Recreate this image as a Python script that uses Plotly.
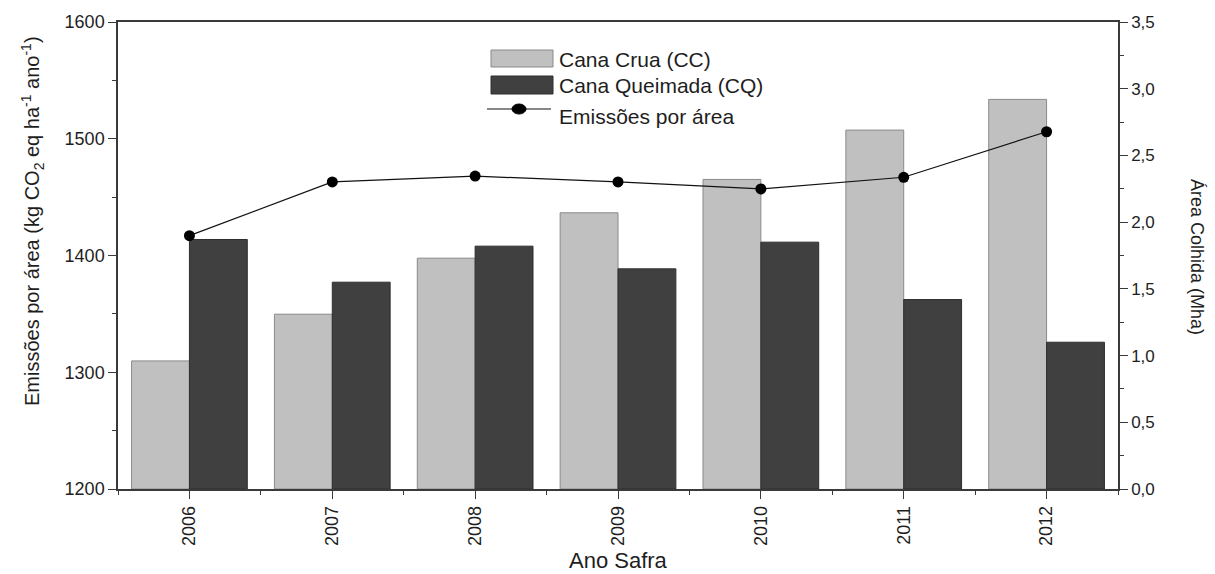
import plotly.graph_objects as go

# Safras (anos) e séries
anos = [2006, 2007, 2008, 2009, 2010, 2011, 2012]
area_cana_crua = [0.96, 1.31, 1.73, 2.07, 2.32, 2.69, 2.92]       # Mha
area_cana_queimada = [1.87, 1.55, 1.82, 1.65, 1.85, 1.42, 1.10]   # Mha
emissoes_por_area = [1417, 1463, 1468, 1463, 1457, 1467, 1506]    # kg CO2 eq ha-1 ano-1

W, H = 1215, 574
ML, MR, MT, MB = 118, 97, 22, 85
PW, PH = W - ML - MR, H - MT - MB

FONT = "Liberation Sans, Arial, sans-serif"
AXIS_COLOR = "#3a3a3a"
TEXT_COLOR = "#1e1e1e"


def px_x(x):
    return (x - ML) / PW


def px_y(y):
    return (H - MB - y) / PH


fig = go.Figure()

fig.add_trace(go.Bar(
    x=anos, y=area_cana_crua, name="Cana Crua (CC)",
    marker=dict(color="#c0c0c0", line=dict(color="#8a8a8a", width=1)),
    yaxis="y", showlegend=False,
))
fig.add_trace(go.Bar(
    x=anos, y=area_cana_queimada, name="Cana Queimada (CQ)",
    marker=dict(color="#404040", line=dict(color="#2e2e2e", width=1)),
    yaxis="y", showlegend=False,
))
fig.add_trace(go.Scatter(
    x=anos, y=emissoes_por_area, name="Emissões por área",
    mode="lines+markers",
    line=dict(color="#111111", width=1.2),
    marker=dict(color="#000000", size=11),
    yaxis="y2", showlegend=False,
))

tick_font = dict(family=FONT, size=17, color=TEXT_COLOR)

fig.update_layout(
    width=W, height=H,
    margin=dict(l=ML, r=MR, t=MT, b=MB),
    paper_bgcolor="white", plot_bgcolor="white",
    barmode="group", bargap=0.19, bargroupgap=0,
    separators=",.",
    font=dict(family=FONT, color=TEXT_COLOR),
    xaxis=dict(
        range=[2005.5, 2012.5], tickmode="array", tickvals=anos,
        ticktext=[str(a) for a in anos], tickangle=-90,
        ticks="outside", ticklen=8, tickwidth=1.2, tickcolor=AXIS_COLOR,
        minor=dict(tickmode="linear", tick0=2005.5, dtick=1, ticks="outside",
                   ticklen=4, tickwidth=1.2, tickcolor=AXIS_COLOR),
        showline=True, linecolor=AXIS_COLOR, linewidth=1.5, mirror=True,
        showgrid=False, zeroline=False, tickfont=dict(family=FONT, size=18, color=TEXT_COLOR),
    ),
    yaxis=dict(
        side="right", range=[0, 3.5], tickmode="linear", tick0=0, dtick=0.5,
        tickformat=".1f",
        ticks="outside", ticklen=8, tickwidth=1.2, tickcolor=AXIS_COLOR,
        minor=dict(tickmode="linear", tick0=0, dtick=0.25, ticks="outside",
                   ticklen=4, tickwidth=1.2, tickcolor=AXIS_COLOR),
        showline=True, linecolor=AXIS_COLOR, linewidth=1.5,
        showgrid=False, zeroline=False, tickfont=tick_font,
    ),
    yaxis2=dict(
        overlaying="y", side="left", anchor="x",
        range=[1200, 1600], tickmode="linear", tick0=1200, dtick=100,
        ticks="outside", ticklen=8, tickwidth=1.2, tickcolor=AXIS_COLOR,
        minor=dict(tickmode="linear", tick0=1200, dtick=50, ticks="outside",
                   ticklen=4, tickwidth=1.2, tickcolor=AXIS_COLOR),
        showline=True, linecolor=AXIS_COLOR, linewidth=1.5,
        showgrid=False, zeroline=False, tickfont=dict(family=FONT, size=18, color=TEXT_COLOR),
    ),
)

# Legenda desenhada no canto superior central
shapes = [
    dict(type="rect", xref="paper", yref="paper",
         x0=px_x(491), x1=px_x(553), y0=px_y(67), y1=px_y(50),
         fillcolor="#c0c0c0", line=dict(color="#8a8a8a", width=1)),
    dict(type="rect", xref="paper", yref="paper",
         x0=px_x(491), x1=px_x(553), y0=px_y(94), y1=px_y(76),
         fillcolor="#404040", line=dict(color="#2e2e2e", width=1)),
    dict(type="line", xref="paper", yref="paper",
         x0=px_x(487), x1=px_x(551), y0=px_y(109), y1=px_y(109),
         line=dict(color="#111111", width=1.2)),
    dict(type="circle", xref="paper", yref="paper",
         x0=px_x(512), x1=px_x(526), y0=px_y(114), y1=px_y(104),
         fillcolor="#000000", line=dict(color="#000000", width=1)),
]

legend_font = dict(family=FONT, size=21, color=TEXT_COLOR)
annotations = [
    dict(text="Cana Crua (CC)", x=px_x(557), y=px_y(59), xref="paper", yref="paper",
         xanchor="left", yanchor="middle", showarrow=False, font=legend_font),
    dict(text="Cana Queimada (CQ)", x=px_x(557), y=px_y(85), xref="paper", yref="paper",
         xanchor="left", yanchor="middle", showarrow=False, font=legend_font),
    dict(text="Emissões por área", x=px_x(557), y=px_y(117), xref="paper", yref="paper",
         xanchor="left", yanchor="middle", showarrow=False, font=legend_font),
    # Títulos dos eixos
    dict(text="Ano Safra", x=px_x(618), y=px_y(560), xref="paper", yref="paper",
         xanchor="center", yanchor="middle", showarrow=False,
         font=dict(family=FONT, size=22, color=TEXT_COLOR)),
    dict(text="Emissões por área (kg CO<sub>2</sub> eq ha<sup>-1</sup> ano<sup>-1</sup>)",
         x=px_x(32), y=px_y(221), xref="paper", yref="paper", textangle=-90,
         xanchor="center", yanchor="middle", showarrow=False,
         font=dict(family=FONT, size=20, color=TEXT_COLOR)),
    dict(text="Área Colhida (Mha)", x=px_x(1197), y=px_y(257), xref="paper", yref="paper",
         textangle=90, xanchor="center", yanchor="middle", showarrow=False,
         font=dict(family=FONT, size=18, color=TEXT_COLOR)),
]

fig.update_layout(shapes=shapes, annotations=annotations)

fig.write_html("out.html")
